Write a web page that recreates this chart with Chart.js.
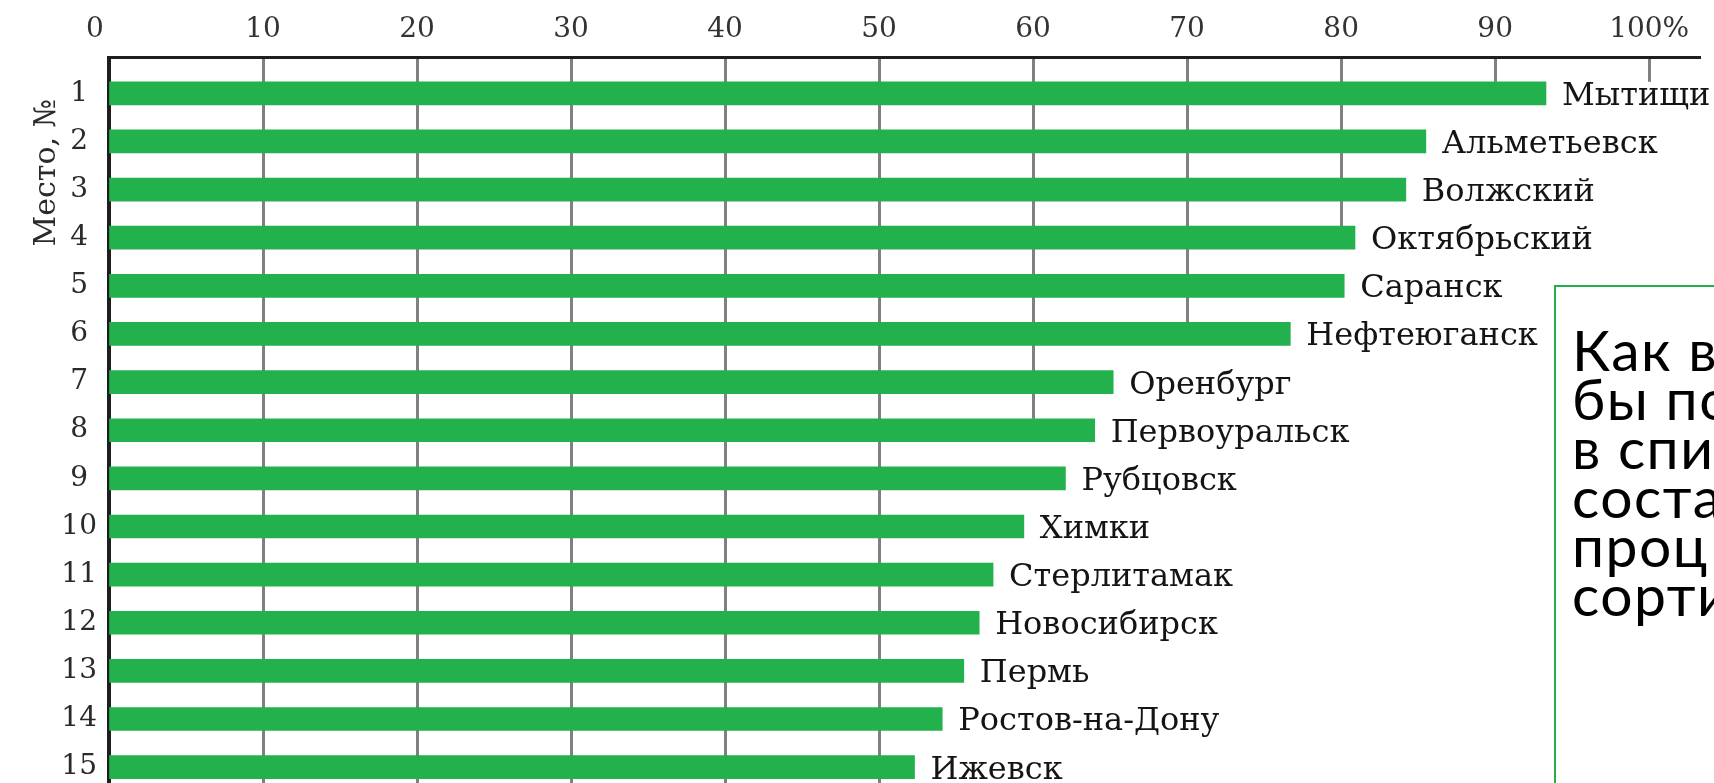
<!DOCTYPE html>
<html lang="ru">
<head>
<meta charset="utf-8">
<script src="https://cdn.jsdelivr.net/npm/chart.js@4.4.1/dist/chart.umd.min.js"></script>
<style>
  html, body { margin: 0; padding: 0; background: #fff; overflow: hidden; }
  #wrap { position: relative; width: 1714px; height: 783px; }
  #note {
    position: absolute; left: 1554px; top: 285px; width: 400px; height: 600px;
    box-sizing: border-box; border: 2px solid #22b04f; background: #fff;
    padding: 38px 0 0 16px; white-space: nowrap;
    font-family: Lato, "Open Sans", sans-serif; font-size: 57px; line-height: 49px; color: #000;
    letter-spacing: 1.5px;
  }
</style>
</head>
<body>
<div id="wrap">
  <canvas id="chart" width="1714" height="783"></canvas>
  <div id="note">Как в<br>бы по<br>в спи<br>соста<br>проц<br>сорти</div>
</div>
<script>
// place in the ranking, city, share (%)
const places = [1, 2, 3, 4, 5, 6, 7, 8, 9, 10, 11, 12, 13, 14, 15];
const cities = ['Мытищи', 'Альметьевск', 'Волжский', 'Октябрьский', 'Саранск', 'Нефтеюганск',
  'Оренбург', 'Первоуральск', 'Рубцовск', 'Химки', 'Стерлитамак', 'Новосибирск', 'Пермь',
  'Ростов-на-Дону', 'Ижевск'];
const shares = [93.3, 85.5, 84.2, 80.9, 80.2, 76.7, 65.2, 64.0, 62.1, 59.4, 57.4, 56.5, 55.5, 54.1, 52.3];

const xTicks = [0, 10, 20, 30, 40, 50, 60, 70, 80, 90, 100];
// grid lines (10..100) stop at the top of this row's bar
const gridTicks = [10, 20, 30, 40, 50, 60, 70, 80, 90, 100];
const gridStopRow = [16, 16, 16, 16, 16, 8, 6, 4, 1, 1];

const BAR_THICKNESS = 23;
const SERIF = 'DejaVu Serif';

const gridPlugin = {
  id: 'partialGrid',
  beforeDatasetsDraw(chart) {
    const { ctx, chartArea, scales: { x, y } } = chart;
    ctx.save();
    ctx.strokeStyle = '#808080';
    ctx.lineWidth = 3;
    gridTicks.forEach((t, i) => {
      const px = Math.round(x.getPixelForValue(t)) + 0.5;
      const bottom = Math.min(chartArea.bottom, y.getPixelForValue(gridStopRow[i]) - BAR_THICKNESS / 2);
      ctx.beginPath();
      ctx.moveTo(px, chartArea.top + 1.5);
      ctx.lineTo(px, bottom);
      ctx.stroke();
    });
    ctx.restore();
  },
};

const labelPlugin = {
  id: 'cityLabels',
  afterDatasetsDraw(chart) {
    const { ctx, scales: { y } } = chart;
    const meta = chart.getDatasetMeta(0);
    ctx.save();
    ctx.font = `32px "${SERIF}"`;
    ctx.fillStyle = '#141414';
    ctx.textAlign = 'left';
    ctx.textBaseline = 'alphabetic';
    meta.data.forEach((bar, i) => {
      ctx.fillText(cities[i], bar.x + 16, bar.y + bar.height / 2);
    });

    // axis title, rotated, next to the first rows
    ctx.translate(47, y.getPixelForValue(2.65));
    ctx.rotate(-Math.PI / 2);
    ctx.font = `30px "${SERIF}"`;
    ctx.fillStyle = '#2a2a2a';
    ctx.textAlign = 'center';
    ctx.textBaseline = 'middle';
    ctx.fillText('Место, №', 0, 0);
    ctx.restore();
  },
};

new Chart(document.getElementById('chart'), {
  type: 'bar',
  data: {
    datasets: [{
      data: shares.map((v, i) => ({ x: v, y: places[i] })),
      backgroundColor: '#22b14c',
      borderWidth: 0,
      barThickness: BAR_THICKNESS,
    }],
  },
  options: {
    indexAxis: 'y',
    responsive: false,
    animation: false,
    layout: { padding: { left: 0, right: 14, top: 0, bottom: 0 } },
    plugins: {
      legend: { display: false },
      tooltip: { enabled: false },
    },
    scales: {
      x: {
        type: 'linear',
        position: 'top',
        min: 0,
        max: 103.3,
        afterFit(axis) {
          axis.height = 57.5;
          axis.paddingLeft = 0;
          axis.paddingRight = 0;
        },
        afterBuildTicks(axis) { axis.ticks = xTicks.map((v) => ({ value: v })); },
        grid: { color: 'transparent', drawTicks: false },
        border: { color: '#1e1e1e', width: 3 },
        ticks: {
          padding: 11,
          color: '#333',
          maxRotation: 0,
          autoSkip: false,
          font: { family: SERIF, size: 28 },
          callback: (v) => {
            if (v === 100) return '100%';
            if (v === 0) return '0\u2003';
            return String(v);
          },
        },
      },
      y: {
        type: 'linear',
        reverse: true,
        offset: false,
        min: 0.256,
        max: 15.33,
        z: 1,
        afterFit(axis) {
          axis.width = 109;
          axis.paddingTop = 0;
          axis.paddingBottom = 0;
        },
        afterBuildTicks(axis) { axis.ticks = places.map((v) => ({ value: v })); },
        grid: { color: 'transparent', drawTicks: false, offset: false },
        border: { color: '#1e1e1e', width: 4 },
        ticks: {
          padding: 12,
          crossAlign: 'center',
          color: '#2a2a2a',
          autoSkip: false,
          font: { family: SERIF, size: 28 },
          callback: (v) => String(v),
        },
      },
    },
  },
  plugins: [gridPlugin, labelPlugin],
});
</script>
</body>
</html>
